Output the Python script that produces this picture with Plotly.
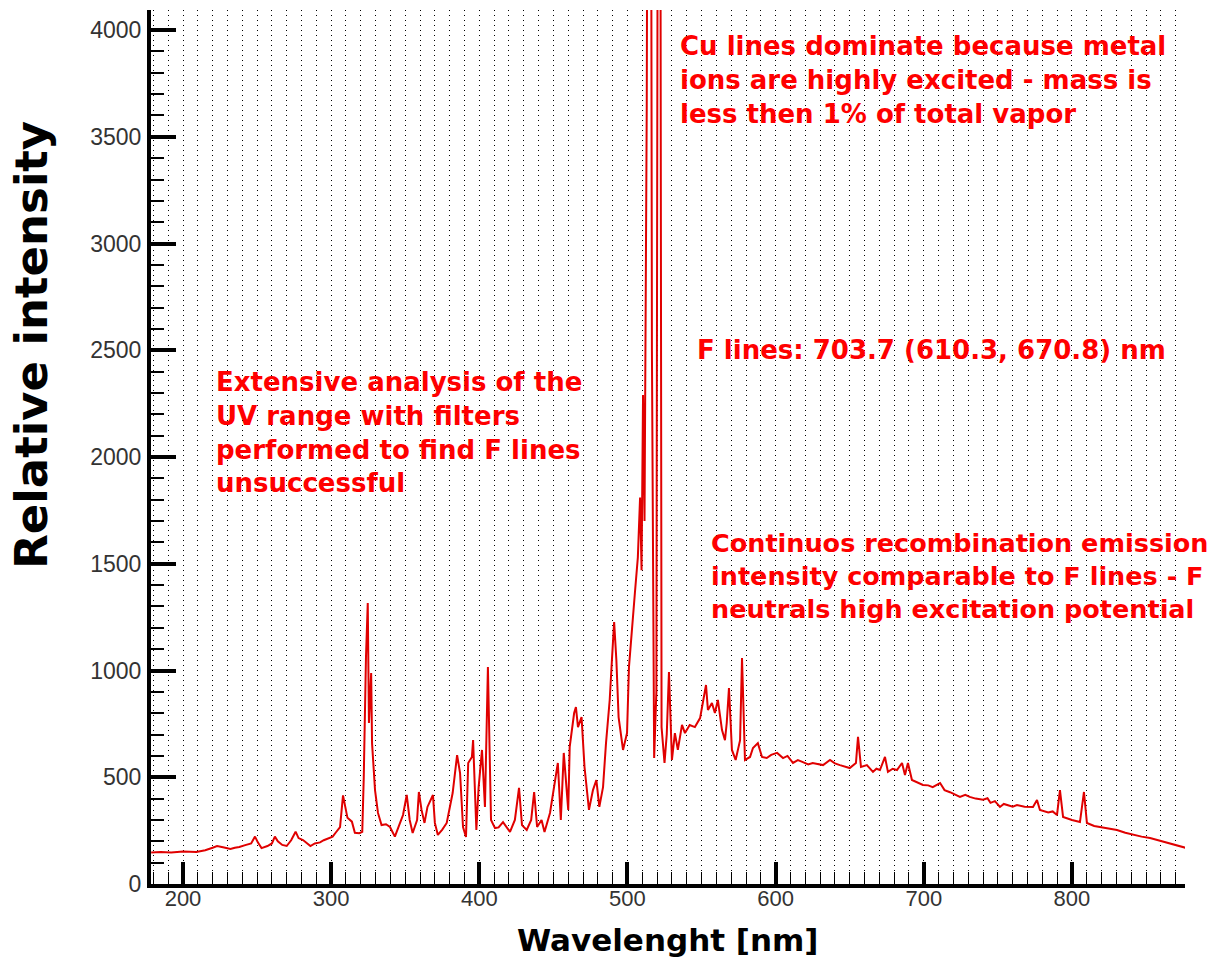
import plotly.graph_objects as go

wavelength = [178.5, 185, 192, 200, 209, 215, 220, 223, 227, 232, 235, 238, 242, 246, 248.6, 250.5, 253, 257, 260, 262,
              264, 267, 270, 273, 276, 278, 281, 284, 286, 289, 292.5, 295, 298, 301, 303, 306, 308, 309.5, 311, 314,
              316, 319, 321, 322, 323.5, 324.7, 325.5, 327, 327.6, 329.6, 331.6, 334, 337, 339.7, 343, 346.5, 348.5, 351,
              353, 355, 358, 359.2, 361, 363, 365, 368.7, 370, 372, 375, 378, 382, 385, 387, 389, 391, 392.5, 395, 395.8,
              397, 398, 399.5, 401.8, 403.8, 405.8, 407.9, 410.6, 413, 416, 420.7, 424, 426.8, 428.8, 432, 435, 437, 439,
              442, 444, 447.7, 449.7, 451.7, 453, 455, 457, 460, 461, 464, 465.2, 466.6, 469, 471, 474, 476.7, 479, 481,
              483.5, 485.5, 488, 489.5, 491, 492.5, 494, 497, 499.7, 501, 503, 505, 507, 508.5, 509.5, 510.5, 511.5, 513,
              515.0, 516.5, 518, 519.5, 521.4, 523, 525, 526.5, 528, 530, 532, 534, 536.8, 538.8, 542,
              545.5, 549, 551, 553, 554.3, 557, 559, 561, 563.8, 565.8, 567, 568.5, 570.5, 573, 576, 577.3, 579.3, 582.7,
              584.7, 588, 590.8, 594, 597, 601, 605, 608, 611.7, 615, 618.4, 622, 625, 628, 632, 636.7, 640, 643.4, 647,
              650, 654.2, 655.6, 657.6, 661.6, 665.7, 668, 670.4, 673.8, 675.8, 679, 681.9, 685.3, 687.3, 689.3, 692,
              696, 699.4, 703, 706, 711, 714, 717.7, 721, 724.4, 728, 731, 735, 740, 743, 745, 748, 751.4, 754, 757,
              760, 762.9, 768, 773.7, 776.4, 778.4, 784, 787, 789.9, 791.9, 794, 800, 805.4, 808.1, 810.1, 815, 818.9,
              822, 825, 830.4, 836, 841.2, 847, 852.7, 858, 864.2, 870, 875, 876.5]
intensity = [148, 150, 147, 152, 150, 158, 170, 178, 172, 164, 170, 173, 182, 190, 222, 195, 168, 178, 190, 222,
             200, 183, 178, 205, 245, 215, 206, 190, 178, 190, 195, 205, 212, 222, 240, 267, 415, 360, 310, 292,
             240, 238, 244, 500, 1063, 1316, 754, 988, 660, 440, 333, 276, 280, 267, 222, 286, 323, 417,
             300, 239, 300, 431, 347, 286, 361, 417, 286, 230, 255, 286, 426, 604, 520, 267, 220, 567, 595, 674,
             400, 253, 450, 628, 361, 1016, 300, 262, 265, 290, 244, 300, 450, 276, 253, 300, 431, 267,
             300, 244, 333, 426, 520, 567, 300, 614, 347, 642, 801, 829, 735, 782, 548, 347, 440, 487, 361,
             454, 660, 862, 1049, 1227, 1049, 782, 628, 707, 1016, 1204, 1363, 1530, 1810, 1470, 2290, 1700, 3640,
             9000, 2500, 590, 900, 9000, 735, 567, 700, 993, 581, 707, 628, 745, 707, 745,
             735, 777, 848, 932, 815, 848, 801, 862, 721, 674, 754, 918, 628, 581, 674, 1058, 581, 595,
             637, 660, 595, 590, 605, 614, 590, 600, 567, 580, 571, 560, 567, 562, 557, 581, 565, 557, 550,
             543, 567, 689, 548, 557, 525, 540, 534, 595, 525, 540, 534, 567, 511, 567, 487,
             475, 464, 462, 454, 473, 440, 430, 420, 408, 418, 408, 400, 395, 402, 380, 388, 361, 375, 370,
             362, 370, 362, 361, 393, 347, 335, 340, 323, 440, 314, 300, 290, 431, 286, 272, 267,
             263, 260, 253, 240, 230, 222, 215, 205, 192, 182, 173, 170]

notes = [
    "Cu lines dominate because metal<br>ions are highly excited - mass is<br>less then 1% of total vapor",
    "F lines: 703.7 (610.3, 670.8) nm",
    "Extensive analysis of the<br>UV range with filters<br>performed to find F lines<br>unsuccessful",
    "Continuos recombination emission<br>intensity comparable to F lines - F<br>neutrals high excitation potential",
]
note_x = [534.0, 545.3, 221.0, 555.0]
note_y = [4006, 2580, 2432, 1678]

fig = go.Figure()
fig.add_trace(go.Scatter(x=wavelength, y=intensity, mode="lines",
                         line=dict(color="#e00000", width=2), showlegend=False))

for i, (t, xx, yy) in enumerate(zip(notes, note_x, note_y)):
    size = 25.5 if i == 3 else 26
    fig.add_annotation(x=xx, y=yy, xref="x", yref="y", text=t, showarrow=False,
                       xanchor="left", yanchor="top", align="left",
                       font=dict(family="DejaVu Sans", size=size, color="#ff0000", weight="bold"))

fig.add_annotation(x=-0.115, y=0.617, xref="paper", yref="paper", text="Relative intensity",
                   textangle=-90, showarrow=False, xanchor="center", yanchor="middle",
                   font=dict(family="DejaVu Sans", size=45, color="black", weight="bold"))
fig.add_annotation(x=0.5, y=-0.064, xref="paper", yref="paper", text="Wavelenght [nm]",
                   showarrow=False, xanchor="center", yanchor="middle",
                   font=dict(family="DejaVu Sans", size=31, color="black", weight="bold"))

tickfont = dict(family="Liberation Sans", size=22, color="#333333")
fig.update_xaxes(range=[178.4, 876.3], tick0=0, dtick=100, ticks="inside", ticklen=22, tickwidth=4,
                 tickcolor="black", showline=True, linecolor="black", linewidth=4, zeroline=False,
                 showgrid=True, gridcolor="black", griddash="1px,4px", gridwidth=1,
                 tickfont=tickfont, ticklabelstandoff=-8,
                 minor=dict(dtick=10, tick0=0, ticks="inside", ticklen=12, tickwidth=1, tickcolor="black",
                            showgrid=True, gridcolor="black", griddash="1px,4px", gridwidth=1))
fig.update_yaxes(range=[0, 4094], tick0=0, dtick=500, ticks="inside", ticklen=25, tickwidth=4,
                 tickcolor="black", showline=True, linecolor="black", linewidth=4, zeroline=False,
                 showgrid=False, tickfont=dict(family="Liberation Sans", size=23, color="#333333"),
                 ticklabelstandoff=1,
                 minor=dict(dtick=100, tick0=0, ticks="inside", ticklen=13, tickwidth=2, tickcolor="black",
                            showgrid=False))

fig.update_layout(width=1220, height=960, margin=dict(l=151, r=35, t=10, b=76),
                  paper_bgcolor="white", plot_bgcolor="white")
fig.write_html("out.html")
